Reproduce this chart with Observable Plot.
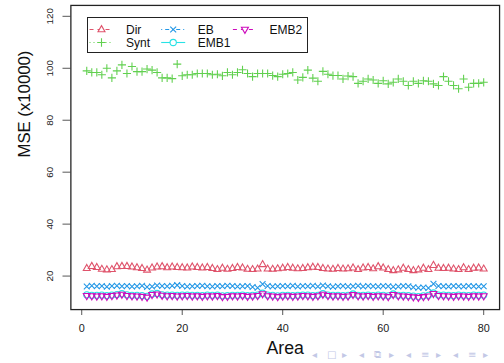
<!DOCTYPE html>
<html><head><meta charset="utf-8">
<script src="https://cdn.jsdelivr.net/npm/d3@7"></script>
<script src="https://cdn.jsdelivr.net/npm/@observablehq/plot@0.6"></script>
<style>
html,body{margin:0;padding:0;background:#fff;overflow:hidden;width:504px;height:363px;}
#wrap{position:relative;width:504px;height:363px;overflow:hidden;font-family:"Liberation Sans",Arial,sans-serif;}
#wrap svg{position:absolute;left:0;top:0;}
#nav span{position:absolute;color:#c3c8e6;font-family:"DejaVu Sans",sans-serif;font-size:10px;line-height:10px;}
</style></head><body><div id="wrap"><div id="nav"></div></div>
<script>
// ---- data ----
const area = Array.from({length: 80}, (_, i) => i + 1);
const xTicks = [0, 20, 40, 60, 80];
const yTicks = [20, 40, 60, 80, 100, 120];
const seriesNames = ["Dir", "Synt", "EB", "EMB1", "EMB2"];
const dir = [23.0,23.8,23.4,22.7,22.5,22.6,23.7,23.8,23.8,23.6,23.3,23.0,22.4,23.2,23.6,23.7,23.3,23.6,23.4,23.3,
 23.2,23.6,23.4,23.2,23.4,23.0,22.6,23.1,22.7,23.0,23.4,23.2,22.7,22.6,22.8,24.5,22.8,22.7,22.9,23.1,
 23.4,23.1,22.9,23.0,23.3,23.5,23.4,23.0,22.8,22.7,23.0,22.8,22.9,23.2,22.6,23.2,23.4,22.9,23.7,23.2,
 22.6,22.2,22.5,23.1,22.6,22.2,22.5,23.1,22.6,24.2,23.1,23.0,23.1,22.8,22.6,23.3,22.6,23.1,23.2,22.8];
const synt = [99.0,98.4,98.4,97.5,100.0,96.3,99.0,101.3,98.0,100.7,98.7,98.7,99.7,99.3,98.4,96.3,96.3,96.0,101.6,97.1,
 97.5,97.5,98.0,98.0,98.0,97.5,97.7,97.1,98.4,97.5,98.4,99.4,98.0,96.8,98.0,98.0,98.0,97.2,96.8,97.7,
 98.0,98.4,95.5,96.5,99.3,96.2,95.0,98.8,97.7,97.2,97.2,95.9,97.0,96.8,94.2,95.0,95.9,95.5,94.2,95.2,
 94.0,94.6,95.9,95.0,93.4,95.0,94.2,95.2,95.0,94.0,93.4,96.8,95.0,93.4,92.1,95.9,92.7,94.2,94.2,94.6];
const eb = [16.0,16.3,16.1,16.2,15.9,16.2,16.3,16.1,16.2,16.0,16.1,16.3,15.8,16.0,16.4,16.2,16.1,16.3,16.5,16.2,
 16.0,16.1,16.2,16.3,16.1,16.0,16.2,16.1,16.3,16.2,16.0,16.1,16.2,15.8,15.5,16.9,16.2,16.0,16.1,16.2,
 16.1,16.3,16.0,16.2,16.1,16.3,16.0,16.4,16.1,15.9,16.1,16.2,16.0,16.1,16.3,16.0,16.2,16.1,16.0,16.2,
 16.1,15.9,16.0,16.2,16.1,15.7,15.5,15.6,15.4,17.0,16.2,16.1,16.0,16.2,16.1,16.0,16.2,16.1,16.0,16.1];
const emb1 = [12.8,12.6,12.6,12.7,12.5,12.7,12.9,13.2,12.8,12.6,12.6,12.5,12.2,13.1,13.3,12.8,12.7,12.7,12.6,12.7,
 12.7,12.6,12.6,12.5,12.7,12.6,12.7,12.4,12.5,12.6,12.6,12.7,12.5,12.6,12.7,13.4,12.7,12.6,12.4,12.6,
 12.6,12.5,12.6,12.7,12.7,12.5,12.6,13.2,12.7,12.6,12.6,12.5,12.6,13.1,12.6,12.6,12.7,12.5,12.7,12.6,
 12.4,13.1,12.6,12.6,12.5,12.3,12.1,12.4,12.6,13.5,12.7,12.7,12.6,12.5,12.7,12.6,12.5,12.7,12.6,12.7];
const emb2 = [12.4,12.3,12.2,12.3,12.1,12.4,12.6,12.9,12.4,12.3,12.2,12.1,11.8,12.8,13.0,12.5,12.3,12.4,12.2,12.3,
 12.4,12.2,12.3,12.1,12.3,12.2,12.4,12.0,12.1,12.3,12.2,12.4,12.1,12.2,12.4,13.1,12.3,12.2,12.0,12.2,
 12.3,12.1,12.2,12.4,12.3,12.1,12.3,12.9,12.4,12.2,12.3,12.1,12.2,12.8,12.3,12.2,12.4,12.1,12.3,12.2,
 12.0,12.8,12.3,12.2,12.1,11.9,11.7,12.0,12.2,13.2,12.4,12.3,12.2,12.1,12.3,12.2,12.1,12.3,12.2,12.3];
const navGlyphs = ["◂","□","▸","◂","⧉","▸","◂","≡","▸","◂","≡","▸"];

// ---- symbols (R pch 2, 3, 4, 1, 6) ----
const rad = s => Math.sqrt(s / Math.PI);
const symUp = {draw(c, s){const r = rad(s); c.moveTo(0, -r*1.05); c.lineTo(r*0.95, r*0.62); c.lineTo(-r*0.95, r*0.62); c.closePath();}};
const symDown = {draw(c, s){const r = rad(s); c.moveTo(0, r*1.05); c.lineTo(r*0.95, -r*0.62); c.lineTo(-r*0.95, -r*0.62); c.closePath();}};
const symPlus = {draw(c, s){const r = rad(s)*1.12; c.moveTo(-r, 0); c.lineTo(r, 0); c.moveTo(0, -r); c.lineTo(0, r);}};
const symTimes = {draw(c, s){const r = rad(s)*0.8; c.moveTo(-r, -r); c.lineTo(r, r); c.moveTo(-r, r); c.lineTo(r, -r);}};
const symCircle = {draw(c, s){const r = rad(s)*0.85; c.moveTo(r, 0); c.arc(0, 0, r, 0, 2*Math.PI);}};

const series = [
  {name: seriesNames[0], values: dir,  color: "#DF536B", symbol: symUp,     dash: "4,4"},
  {name: seriesNames[1], values: synt, color: "#61D04F", symbol: symPlus,   dash: "1,3"},
  {name: seriesNames[2], values: eb,   color: "#2297E6", symbol: symTimes,  dash: "1,3,4,3"},
  {name: seriesNames[3], values: emb1, color: "#28E2E5", symbol: symCircle, dash: null},
  {name: seriesNames[4], values: emb2, color: "#CD0BBC", symbol: symDown,   dash: "4,4"}
];
const R = 3.7;

const dotMarks = series.map(s => Plot.dot(s.values.map((v, i) => ({area: area[i], mse: v})), {
  x: "area", y: "mse", r: R, symbol: s.symbol, stroke: s.color, fill: "none", strokeWidth: 1.1
}));

const chart = Plot.plot({
  width: 512, height: 363,
  marginLeft: 71.5, marginRight: 5, marginTop: 5, marginBottom: 49,
  style: {fontFamily: "'Liberation Sans', Arial, sans-serif", background: "transparent", color: "#111"},
  x: {domain: [-2.16, 83.16]},
  y: {domain: [7.1, 124.2]},
  marks: [
    ...dotMarks,
    Plot.axisY({ticks: yTicks, tickSize: 8, tickFormat: () => "", stroke: "#555", label: null}),
    Plot.text(yTicks, {y: d => d, text: d => String(d), frameAnchor: "left", dx: -21, rotate: -90,
      textAnchor: "middle", lineAnchor: "middle", fontSize: 10, fill: "#222"}),
    Plot.axisX({ticks: xTicks, tickSize: 6, tickPadding: 9, fontSize: 11, stroke: "#555", fill: "#222", label: null}),
    Plot.text(["Area"], {frameAnchor: "bottom", dy: 45, lineAnchor: "bottom", fontSize: 18, fill: "#111"}),
    Plot.text(["MSE (x10000)"], {frameAnchor: "left", dx: -47, rotate: -90, lineAnchor: "middle", fontSize: 17, fill: "#111"}),
    Plot.frame({stroke: "#222", strokeWidth: 1.3})
  ]
});
const wrap = document.getElementById("wrap");
wrap.appendChild(chart);

// ---- legend (inside plot, top-left) ----
const leg = d3.select(wrap).append("svg").attr("width", 504).attr("height", 363)
  .style("font-family", "'Liberation Sans', Arial, sans-serif");
leg.append("rect").attr("x", 87.5).attr("y", 17.5).attr("width", 220).attr("height", 35)
  .attr("fill", "#fff").attr("stroke", "#222").attr("stroke-width", 1);
series.forEach((s, i) => {
  const col = Math.floor(i / 2), row = i % 2;
  const cx = 101.5 + 71.7 * col, cy = 29.5 + 13 * row;
  leg.append("line").attr("x1", cx - 12).attr("x2", cx + 12).attr("y1", cy).attr("y2", cy)
    .attr("stroke", s.color).attr("stroke-width", 1.1).attr("stroke-dasharray", s.dash);
  const p = d3.path(); s.symbol.draw(p, Math.PI * R * R);
  leg.append("path").attr("transform", `translate(${cx},${cy})`).attr("d", p.toString())
    .attr("fill", "#fff").attr("stroke", s.color).attr("stroke-width", 1.1);
  leg.append("text").attr("x", cx + 24.5).attr("y", cy + 4.3).attr("font-size", 12).attr("fill", "#111").text(s.name);
});

// beamer navigation glyphs (kept clear of the axis title)
const navX = [316, 331, 346, 363, 378, 393, 410, 425, 440, 457, 472, 487];
const nav = document.getElementById("nav");
navGlyphs.forEach((g, i) => {
  const sp = document.createElement("span");
  sp.textContent = g; sp.style.left = (navX[i] - 4) + "px"; sp.style.top = "350px";
  nav.appendChild(sp);
});
</script></body></html>
